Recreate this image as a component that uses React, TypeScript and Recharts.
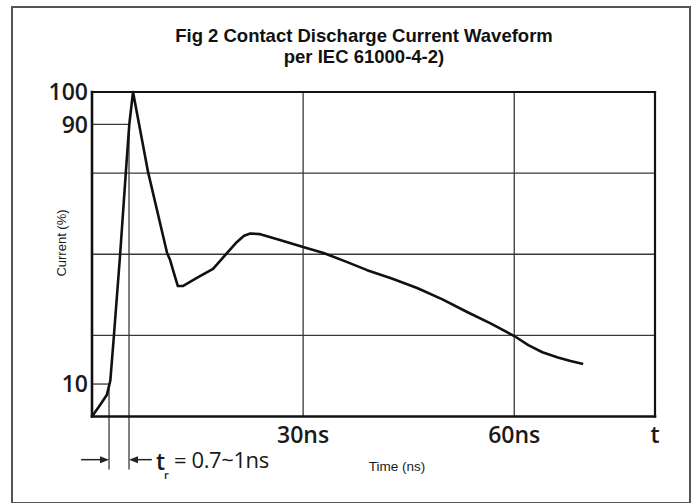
import React from 'react';
import { LineChart, Line, XAxis, YAxis, ReferenceLine } from 'recharts';

// Waveform samples
const timeNs = [0, 1.1, 2.1, 2.6, 3.1, 4.0, 4.8, 5.3, 5.83, 7.97, 10.67, 11.1, 11.8, 12.2, 12.9, 14.9, 17.2, 19.2, 20.6, 21.6, 22.5, 23.9, 26.7, 30, 32.9, 36.0, 39.1, 42.6, 46.2, 49.8, 53.3, 56.7, 60, 62.0, 64.0, 66.2, 68.0, 69.8];
const currentPct = [0, 3.4, 6.6, 11, 24.5, 50, 75, 90, 100, 75.3, 50.4, 48.2, 43, 40.2, 40.2, 42.7, 45.5, 50.4, 53.8, 55.7, 56.4, 56.2, 54.4, 52.2, 50.4, 47.8, 45.1, 42.5, 39.6, 36.1, 32.2, 28.6, 24.8, 22.0, 19.8, 18.2, 17.1, 16.2];

const yTicks = [10, 90, 100];
const xTicks = [30, 60, 80];
const xTickLabels: Record<number, string> = { 30: '30ns', 60: '60ns', 80: 't' };
const gridY = [25, 50, 75];
const gridX = [30, 60];
const riseStartX = 2.42; // 10% crossing
const riseEndX = 5.26; // 90% crossing
const annotY = -13.3;
const dimLineBottom = -16.3;

const data = timeNs.map((t, i) => ({ t, c: currentPct[i] }));

const YTick = (props: any) => {
  const { x, y, payload } = props;
  return (
    <text x={x} y={y} dy="0.36em" textAnchor="end" fontFamily="Open Sans" fontWeight={600} fontSize={23} fill="#1a1a1a">
      {payload.value}
    </text>
  );
};

const XTick = (props: any) => {
  const { x, y, payload } = props;
  return (
    <text x={x} y={y + 26.5} textAnchor="middle" fontFamily="Open Sans" fontWeight={600} fontSize={23} fill="#1a1a1a">
      {xTickLabels[payload.value]}
    </text>
  );
};

const arrowShape = (props: any) => {
  const { x1, y1, x2, y2 } = props;
  const dir = Math.sign(x2 - x1) || 1;
  const head = 9;
  return (
    <g>
      <line x1={x1} y1={y1} x2={x2 - dir * head} y2={y2} stroke="#222" strokeWidth={1.5} />
      <polygon points={`${x2},${y2} ${x2 - dir * head},${y2 - 3.5} ${x2 - dir * head},${y2 + 3.5}`} fill="#222" />
    </g>
  );
};

const gridStroke = '#3a3a3a';

export default function App() {
  return (
    <div style={{ position: 'absolute', left: 0, top: 0, width: 695, height: 503, background: '#fff' }}>
      <div style={{ position: 'absolute', left: 11, top: 6, width: 676, height: 494, border: '2px solid #555' }} />
      <div style={{ position: 'absolute', left: 0, top: 0 }}>
        <LineChart width={695} height={503} data={data} margin={{ top: 92, right: 40, bottom: 0, left: 0 }}>
          <XAxis
            dataKey="t"
            type="number"
            domain={[0, 80]}
            ticks={xTicks}
            tick={<XTick />}
            tickSize={0}
            tickMargin={0}
            axisLine={false}
            tickLine={false}
            height={86.5}
            interval={0}
          />
          <YAxis
            type="number"
            domain={[0, 100]}
            ticks={yTicks}
            tick={<YTick />}
            tickSize={0}
            tickMargin={4}
            axisLine={false}
            tickLine={false}
            width={92}
            interval={0}
          />
          {gridY.map((v) => (
            <ReferenceLine key={'gy' + v} y={v} stroke={gridStroke} strokeWidth={1.3} />
          ))}
          {gridX.map((v) => (
            <ReferenceLine key={'gx' + v} x={v} stroke={gridStroke} strokeWidth={1.3} />
          ))}
          <ReferenceLine segment={[{ x: 0, y: 90 }, { x: riseEndX, y: 90 }]} stroke={gridStroke} strokeWidth={1.3} />
          <ReferenceLine segment={[{ x: 0, y: 10 }, { x: riseStartX, y: 10 }]} stroke={gridStroke} strokeWidth={1.3} />
          <ReferenceLine segment={[{ x: riseStartX, y: 10 }, { x: riseStartX, y: dimLineBottom }]} stroke={gridStroke} strokeWidth={1.3} ifOverflow="visible" />
          <ReferenceLine segment={[{ x: riseEndX, y: 90 }, { x: riseEndX, y: dimLineBottom }]} stroke={gridStroke} strokeWidth={1.3} ifOverflow="visible" />
          <ReferenceLine segment={[{ x: -1.55, y: annotY }, { x: riseStartX, y: annotY }]} ifOverflow="visible" shape={arrowShape} />
          <ReferenceLine segment={[{ x: 8.5, y: annotY }, { x: riseEndX, y: annotY }]} ifOverflow="visible" shape={arrowShape} />
          <Line
            dataKey="c"
            type="linear"
            stroke="#111"
            strokeWidth={2.6}
            strokeLinejoin="round"
            dot={false}
            activeDot={false}
            isAnimationActive={false}
          />
          <ReferenceLine y={0} stroke="#111" strokeWidth={2.6} strokeLinecap="square" />
          <ReferenceLine y={100} stroke="#111" strokeWidth={2.2} strokeLinecap="square" />
          <ReferenceLine x={0} stroke="#111" strokeWidth={2.6} strokeLinecap="square" />
          <ReferenceLine x={80} stroke="#111" strokeWidth={2.2} strokeLinecap="square" />
        </LineChart>
      </div>
      <svg width={695} height={503} style={{ position: 'absolute', left: 0, top: 0, pointerEvents: 'none' }}>
        <g fontFamily="Liberation Sans, Arial, sans-serif" fontWeight="bold" fontSize={18.5} fill="#111" textAnchor="middle">
          <text x={364} y={42}>Fig 2 Contact Discharge Current Waveform</text>
          <text x={364} y={63}>per IEC 61000-4-2)</text>
        </g>
        <text x={0} y={0} transform="translate(66,243) rotate(-90)" textAnchor="middle" fontFamily="Liberation Sans, Arial, sans-serif" fontSize={13} fill="#1a1a1a">
          Current (%)
        </text>
        <text x={397} y={471} textAnchor="middle" fontFamily="Liberation Sans, Arial, sans-serif" fontSize={13.5} fill="#1a1a1a">
          Time (ns)
        </text>
        <text x={156} y={470} fontFamily="Open Sans" fontWeight={600} fontSize={23} fill="#1a1a1a">t</text>
        <text x={164} y={479} fontFamily="Open Sans" fontWeight={600} fontSize={11} fill="#1a1a1a">r</text>
        <text x={174} y={468} fontFamily="Open Sans" fontWeight={500} fontSize={22} fill="#1a1a1a" letterSpacing={-0.4}>= 0.7~1ns</text>
      </svg>
    </div>
  );
}
